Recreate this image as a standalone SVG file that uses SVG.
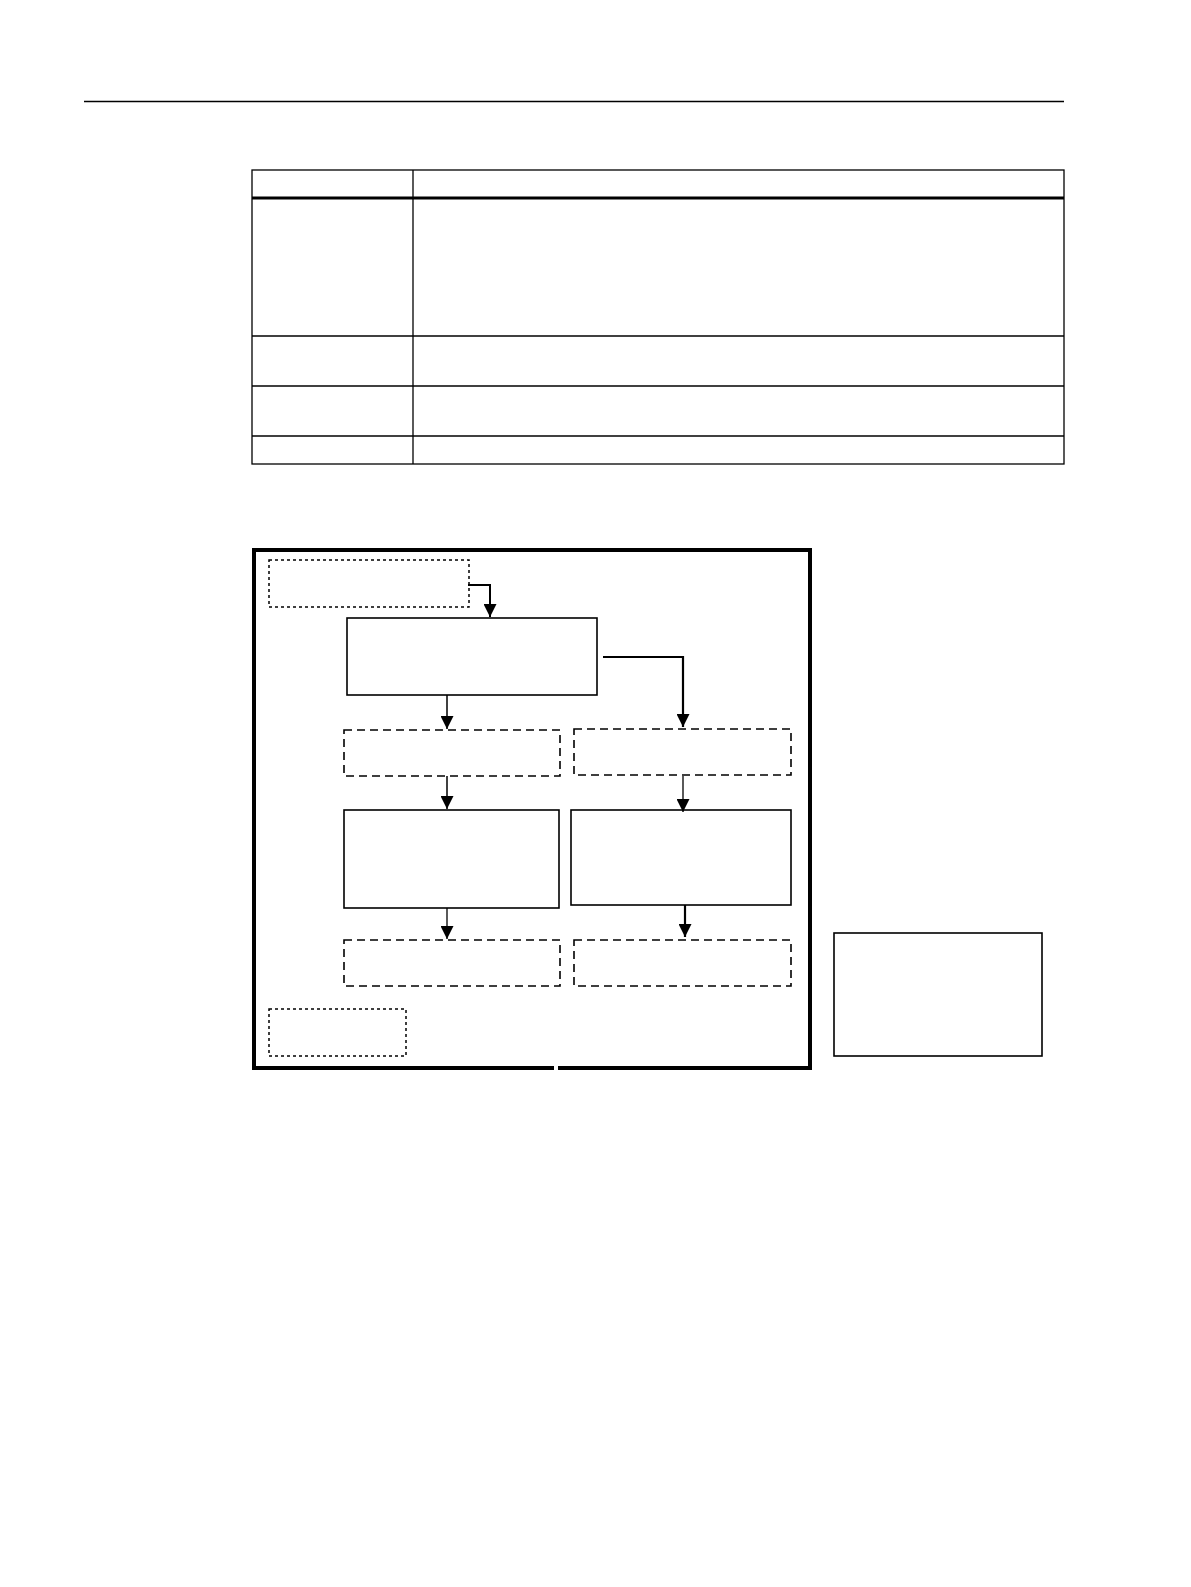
<svg xmlns="http://www.w3.org/2000/svg" width="1191" height="1587" viewBox="0 0 1191 1587">
<defs>
<style>
.ln{stroke:#000;fill:none}
.solid{stroke:#000;fill:#fff;stroke-width:1.6}
.dash{stroke:#000;fill:#fff;stroke-width:1.6;stroke-dasharray:8 5}
.dot{stroke:#000;fill:#fff;stroke-width:1.5;stroke-dasharray:3 3}
</style>
<marker id="ah" viewBox="0 0 10 10" refX="10" refY="5" markerWidth="13" markerHeight="13" markerUnits="userSpaceOnUse" orient="auto">
<path d="M0,0 L10,5 L0,10 z" fill="#000"/>
</marker>
</defs>
<rect width="1191" height="1587" fill="#fff"/>
<line x1="84" y1="101.5" x2="1064" y2="101.5" class="ln" stroke-width="1.3"/>
<g id="table">
<rect x="252" y="170" width="812" height="294" class="ln" stroke-width="1.3"/>
<line x1="252" y1="198" x2="1064" y2="198" class="ln" stroke-width="3"/>
<line x1="413" y1="170" x2="413" y2="464" class="ln" stroke-width="1.3"/>
<line x1="252" y1="336" x2="1064" y2="336" class="ln" stroke-width="1.3"/>
<line x1="252" y1="386" x2="1064" y2="386" class="ln" stroke-width="1.3"/>
<line x1="252" y1="436" x2="1064" y2="436" class="ln" stroke-width="1.3"/>
</g>
<g id="frame">
<path d="M554,1068 H254 V550 H810 V1068 H558" class="ln" stroke-width="4"/>
</g>
<g id="n-top"><rect x="269" y="560" width="200" height="47" class="dot"/></g>
<g id="n-main"><rect x="347" y="618" width="250" height="77" class="solid" stroke-width="2"/></g>
<g id="n-l1"><rect x="344" y="730" width="216" height="46" class="dash"/></g>
<g id="n-r1"><rect x="574" y="729" width="217" height="46" class="dash" stroke-width="1.3"/></g>
<g id="n-l2"><rect x="344" y="810" width="215" height="98" class="solid"/></g>
<g id="n-r2"><rect x="571" y="810" width="220" height="95" class="solid" stroke-width="1.3"/></g>
<g id="n-l3"><rect x="344" y="940" width="216" height="46" class="dash" stroke-width="2.2"/></g>
<g id="n-r3"><rect x="574" y="940" width="217" height="46" class="dash" stroke-width="2"/></g>
<g id="n-small"><rect x="269" y="1009" width="137" height="47" class="dot"/></g>
<g id="n-legend"><rect x="834" y="933" width="208" height="123" class="solid" stroke-width="2"/></g>
<g id="connectors">
<path d="M468,585 H490 V617" class="ln" stroke-width="2" marker-end="url(#ah)"/>
<path d="M603,657 H683 V727" class="ln" stroke-width="2.2" marker-end="url(#ah)"/>
<path d="M447,695 V729" class="ln" stroke-width="1.5" marker-end="url(#ah)"/>
<path d="M447,776 V809" class="ln" stroke-width="1.5" marker-end="url(#ah)"/>
<path d="M683,776 V812" class="ln" stroke-width="1.3" marker-end="url(#ah)"/>
<path d="M447,908 V939" class="ln" stroke-width="1.3" marker-end="url(#ah)"/>
<path d="M685,905 V937" class="ln" stroke-width="2.2" marker-end="url(#ah)"/>
</g>
</svg>
